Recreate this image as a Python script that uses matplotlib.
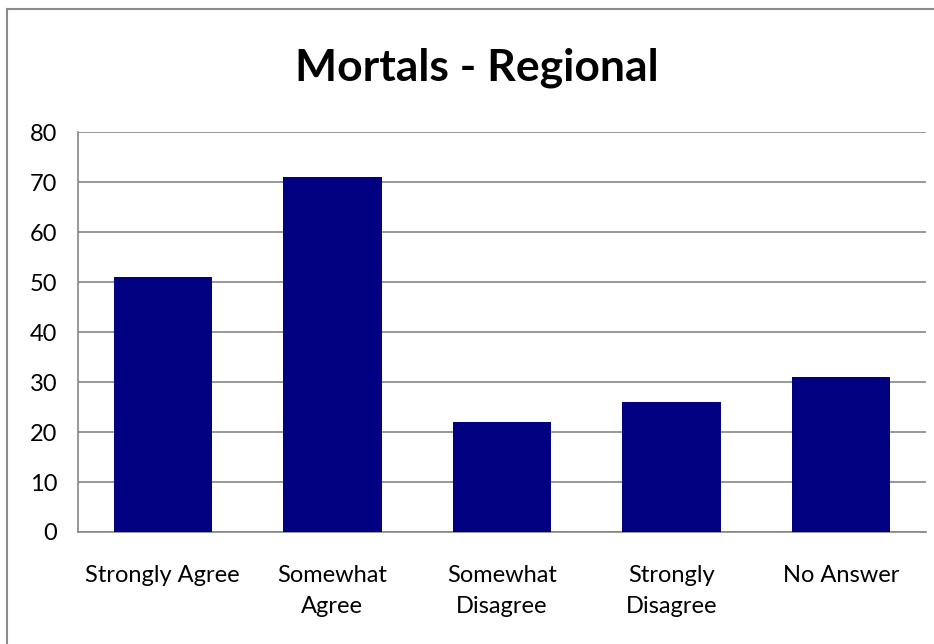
import matplotlib.pyplot as plt
from matplotlib.lines import Line2D
import numpy as np

# survey answers
categories = ['Strongly Agree', 'Somewhat\nAgree', 'Somewhat\nDisagree',
              'Strongly\nDisagree', 'No Answer']
counts = [51, 71, 22, 26, 31]
yticks = [0, 10, 20, 30, 40, 50, 60, 70, 80]

plt.rcParams['font.family'] = ['Lato', 'DejaVu Sans']

fig = plt.figure(figsize=(9.34, 6.44), dpi=100)
ax = fig.add_axes([0.0835, 0.174, 0.9079, 0.6203])

x = np.arange(len(categories))
ax.bar(x, counts, width=0.58, color='#000080', zorder=3)

ax.set_xlim(-0.5, len(categories) - 0.5)
ax.set_ylim(0, 80)
ax.set_yticks(yticks)
ax.set_xticks(x)
ax.set_xticklabels(categories, linespacing=1.6)
ax.tick_params(axis='y', length=0, pad=15, labelsize=17)
ax.tick_params(axis='x', length=0, pad=24, labelsize=17)
ax.yaxis.grid(True, color='#868686', linewidth=1.2, zorder=0)

for side in ['top', 'right']:
    ax.spines[side].set_visible(False)
for side in ['left', 'bottom']:
    ax.spines[side].set_color('#868686')
    ax.spines[side].set_linewidth(1.2)

fig.text(0.511, 0.895, 'Mortals - Regional', ha='center', va='center',
         fontsize=32, fontweight='bold')

# chart border (only left and top visible in the picture)
bx, by = 6.5 / 934, 1 - 8.5 / 644
fig.add_artist(Line2D([bx, bx], [0, by], color='#8c8c8c', linewidth=1.5))
fig.add_artist(Line2D([bx, 1], [by, by], color='#8c8c8c', linewidth=1.5))

fig.savefig('out.png', dpi=100)
